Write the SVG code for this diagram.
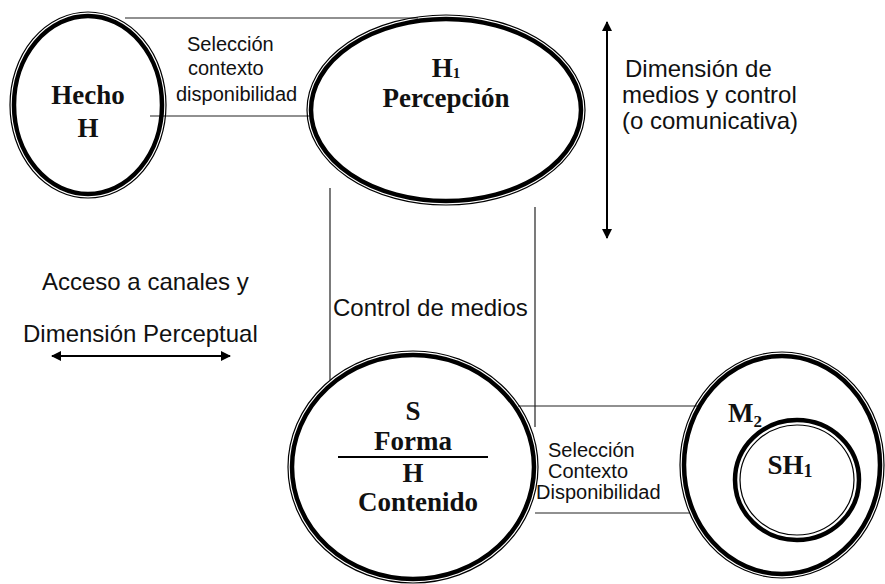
<svg xmlns="http://www.w3.org/2000/svg" width="885" height="584" viewBox="0 0 885 584">
<defs>
<style>
.thin{fill:none;stroke:#000;stroke-width:1.2}
.thick{fill:none;stroke:#000;stroke-width:4.5}
.ln{fill:none;stroke:#222;stroke-width:1.2}
.b{font-family:"Liberation Serif","Times New Roman",serif;font-weight:bold;font-size:27px;fill:#111;text-anchor:middle}
.s{font-family:"Liberation Sans",Arial,sans-serif;font-size:24px;fill:#111}
.sm{font-family:"Liberation Sans",Arial,sans-serif;font-size:20px;fill:#111}
.ar{fill:none;stroke:#000;stroke-width:2}
</style>
<marker id="ah" viewBox="0 0 10 10" refX="9" refY="5" markerWidth="5" markerHeight="5" orient="auto-start-reverse" markerUnits="strokeWidth">
<path d="M0,0 L10,5 L0,10 z" fill="#000"/>
</marker>
</defs>
<rect width="885" height="584" fill="#fff"/>
<g id="connectors">
<line class="ln" x1="125" y1="18" x2="418" y2="18"/>
<line class="ln" x1="150" y1="116" x2="310" y2="116"/>
<line class="ln" x1="330" y1="188" x2="330" y2="380"/>
<line class="ln" x1="535" y1="207" x2="535" y2="427"/>
<line class="ln" x1="518" y1="406" x2="698" y2="406"/>
<line class="ln" x1="535" y1="513" x2="690" y2="513"/>
<line class="ar" x1="607" y1="22" x2="607" y2="238" marker-start="url(#ah)" marker-end="url(#ah)"/>
<line class="ar" x1="52" y1="356" x2="230" y2="356" marker-start="url(#ah)" marker-end="url(#ah)"/>
</g>
<g id="labels">
<text class="sm" x="187" y="51">Selección</text>
<text class="sm" x="188" y="75">contexto</text>
<text class="sm" x="176" y="101">disponibilidad</text>
<text class="s" x="625" y="77">Dimensión de</text>
<text class="s" x="622" y="103">medios y control</text>
<text class="s" x="622" y="129">(o comunicativa)</text>
<text class="s" x="42" y="290">Acceso a canales y</text>
<text class="s" x="23" y="342">Dimensión Perceptual</text>
<text class="s" x="333" y="316">Control de medios</text>
<text class="sm" x="548" y="457">Selección</text>
<text class="sm" x="548" y="478">Contexto</text>
<text class="sm" x="536" y="499">Disponibilidad</text>
</g>
<g id="hecho">
<ellipse class="thin" cx="88" cy="105" rx="78" ry="93"/>
<ellipse class="thick" cx="88" cy="105" rx="74" ry="89"/>
<text class="b" x="88" y="104">Hecho</text>
<text class="b" x="88" y="137">H</text>
</g>
<g id="percepcion">
<ellipse class="thin" cx="446" cy="110" rx="139" ry="95"/>
<ellipse class="thick" cx="446" cy="110" rx="135" ry="91"/>
<text class="b" x="446" y="77" font-size="23">H<tspan font-size="15" dy="1">1</tspan></text>
<text class="b" x="446" y="107" font-size="24">Percepción</text>
</g>
<g id="forma">
<ellipse class="thin" cx="413" cy="467" rx="125" ry="116"/>
<ellipse class="thick" cx="413" cy="467" rx="121" ry="112"/>
<line x1="338" y1="457" x2="488" y2="457" stroke="#000" stroke-width="2"/>
<text class="b" x="413" y="420">S</text>
<text class="b" x="413" y="450">Forma</text>
<text class="b" x="413" y="482">H</text>
<text class="b" x="418" y="511">Contenido</text>
</g>
<g id="m2">
<ellipse class="thin" cx="782" cy="465" rx="102" ry="113"/>
<ellipse class="thick" cx="782" cy="465" rx="98" ry="109"/>
<text class="b" x="745" y="422">M<tspan font-size="17" dy="5">2</tspan></text>
</g>
<g id="sh1">
<ellipse class="thin" cx="797" cy="480" rx="57" ry="55"/>
<ellipse class="thick" cx="797" cy="480" rx="62" ry="60"/>
<text class="b" x="790" y="474">SH<tspan font-size="18" dy="3">1</tspan></text>
</g>
</svg>
